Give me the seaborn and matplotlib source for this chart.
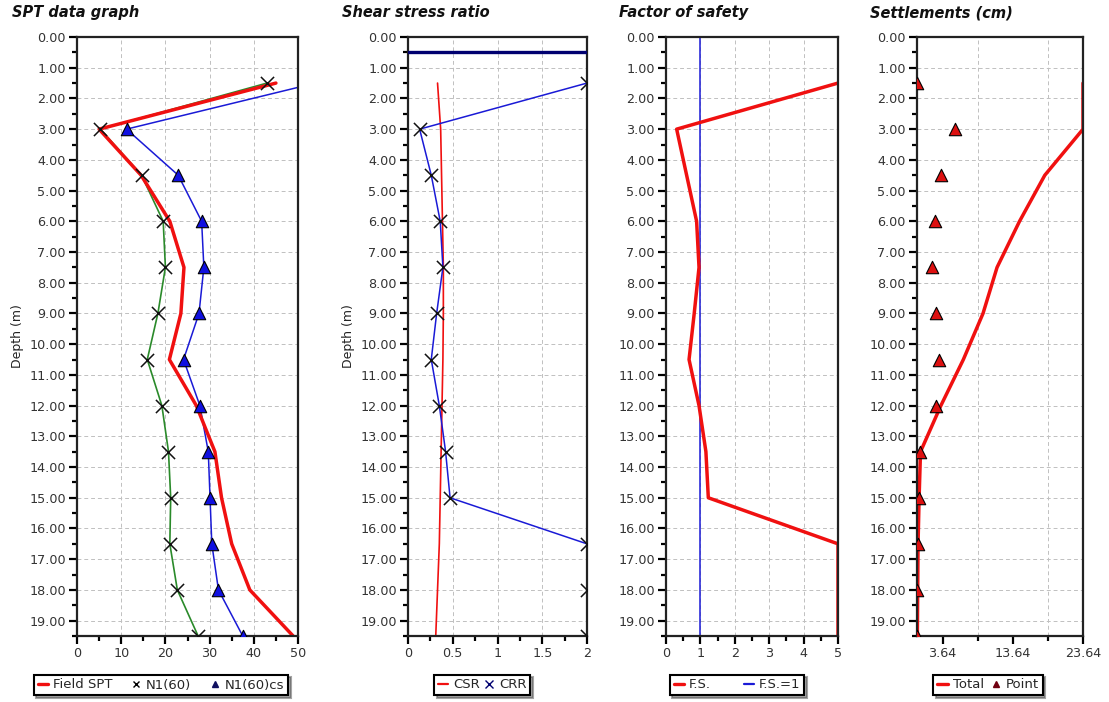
import numpy as np
import pandas as pd
import matplotlib
matplotlib.use("Agg")
import matplotlib.pyplot as plt
import seaborn as sns
from matplotlib.lines import Line2D
from matplotlib.ticker import MultipleLocator, FixedLocator

# ---------------- data ----------------
depth = [1.5, 3.0, 4.5, 6.0, 7.5, 9.0, 10.5, 12.0, 13.5, 15.0, 16.5, 18.0, 19.5]

field_spt = [45.0, 5.0, 14.5, 21.0, 24.2, 23.5, 20.9, 27.0, 31.2, 32.7, 35.0, 39.1, 48.9]
n1_60 = [43.0, 5.3, 14.6, 19.5, 20.0, 18.3, 15.9, 19.2, 20.7, 21.2, 21.0, 22.7, 27.4]
n1_60cs = [54.0, 11.2, 22.9, 28.2, 28.7, 27.6, 24.1, 27.8, 29.7, 30.1, 30.5, 32.0, 37.5]

csr = [0.33, 0.365, 0.375, 0.385, 0.395, 0.395, 0.39, 0.38, 0.37, 0.36, 0.35, 0.33, 0.31]
crr = [2.0, 0.13, 0.26, 0.36, 0.39, 0.32, 0.26, 0.35, 0.42, 0.47, 2.0, 2.0, 2.0]
water_table = 0.5

fs = [5.0, 0.31, 0.6, 0.89, 0.96, 0.82, 0.67, 0.96, 1.16, 1.23, 5.0, 5.0, 5.0]
fs_limit = 1.0

settle_total = [23.64, 23.64, 18.2, 14.6, 11.4, 9.4, 6.6, 3.4, 0.5, 0.3, 0.15, 0.1, 0.05]
settle_point = [0.05, 5.4, 3.4, 2.5, 2.2, 2.7, 3.2, 2.7, 0.43, 0.33, 0.1, 0.05, 0.0]

titles = ["SPT data graph", "Shear stress ratio", "Factor of safety", "Settlements (cm)"]

# ---------------- style ----------------
sns.set_theme(style="white")
plt.rcParams['font.family'] = ['DejaVu Sans']

RED = "#f01010"
BLUE = "#1a1ad6"
GREEN = "#2a8a2a"
NAVY = "#000070"

W, H = 1109, 702
fig = plt.figure(figsize=(W / 100, H / 100), dpi=100)

def px_axes(l, r, t=37, b=636):
    return fig.add_axes([l / W, 1 - b / H, (r - l) / W, (b - t) / H])

ax1 = px_axes(77, 298)
ax2 = px_axes(408, 587)
ax3 = px_axes(666, 838)
ax4 = px_axes(917, 1083)
axes = [ax1, ax2, ax3, ax4]

df = pd.DataFrame(dict(depth=depth, field_spt=field_spt, n1_60=n1_60, n1_60cs=n1_60cs,
                       csr=csr, crr=crr, fs=fs, total=settle_total, point=settle_point))

# Panel 1: SPT
sns.lineplot(data=df, x="n1_60cs", y="depth", sort=False, estimator=None, ax=ax1,
             color=BLUE, linewidth=1.1)
sns.lineplot(data=df, x="n1_60", y="depth", sort=False, estimator=None, ax=ax1,
             color=GREEN, linewidth=1.2)
sns.lineplot(data=df, x="field_spt", y="depth", sort=False, estimator=None, ax=ax1,
             color=RED, linewidth=2.5)
sns.scatterplot(data=df, x="n1_60", y="depth", ax=ax1, marker="x", color="#111111",
                s=90, linewidth=1.1, zorder=5)
sns.scatterplot(data=df, x="n1_60cs", y="depth", ax=ax1, marker="^", color="#1010e0",
                edgecolor="black", linewidth=0.8, s=80, zorder=6)

# Panel 2: shear stress ratio
ax2.axhline(water_table, color=NAVY, linewidth=2.4, zorder=4)
sns.lineplot(data=df, x="csr", y="depth", sort=False, estimator=None, ax=ax2,
             color=RED, linewidth=1.2)
sns.lineplot(data=df, x="crr", y="depth", sort=False, estimator=None, ax=ax2,
             color=BLUE, linewidth=1.1)
sns.scatterplot(data=df, x="crr", y="depth", ax=ax2, marker="x", color="#111111",
                s=90, linewidth=1.1, zorder=5)

# Panel 3: factor of safety
ax3.axvline(fs_limit, color=BLUE, linewidth=1.1)
sns.lineplot(data=df, x="fs", y="depth", sort=False, estimator=None, ax=ax3,
             color=RED, linewidth=2.5)

# Panel 4: settlements
sns.lineplot(data=df, x="total", y="depth", sort=False, estimator=None, ax=ax4,
             color=RED, linewidth=2.5)
sns.scatterplot(data=df, x="point", y="depth", ax=ax4, marker="^", color="#dd1010",
                edgecolor="black", linewidth=0.8, s=80, zorder=6)

# ---------------- axes formatting ----------------
xlims = [(0, 50), (0, 2), (0, 5), (0, 23.64)]
xmajor = [[0, 10, 20, 30, 40, 50], [0, 0.5, 1, 1.5, 2], [0, 1, 2, 3, 4, 5], [3.64, 13.64, 23.64]]
xminor = [[5, 15, 25, 35, 45], [0.25, 0.75, 1.25, 1.75], [0.5, 1.5, 2.5, 3.5, 4.5], [8.64, 18.64]]
xlabels = [["0", "10", "20", "30", "40", "50"], ["0", "0.5", "1", "1.5", "2"],
           ["0", "1", "2", "3", "4", "5"], ["3.64", "13.64", "23.64"]]
gridx = [[10, 20, 30, 40], [0.5, 1, 1.5], [1, 2, 3, 4], [8.64, 18.64]]

for i, ax in enumerate(axes):
    ax.set_xlim(*xlims[i])
    ax.set_ylim(19.5, 0)
    ax.xaxis.set_major_locator(FixedLocator(xmajor[i]))
    ax.xaxis.set_minor_locator(FixedLocator(xminor[i]))
    ax.set_xticklabels(xlabels[i])
    ax.yaxis.set_major_locator(MultipleLocator(1))
    ax.yaxis.set_minor_locator(MultipleLocator(0.5))
    ax.set_yticks(np.arange(0, 20, 1))
    ax.set_yticklabels([f"{v:.2f}" for v in np.arange(0, 20, 1)])
    ax.tick_params(which="major", direction="out", length=6, width=1.6, color="black",
                   labelsize=9.2, labelcolor="#333333", pad=2, bottom=True, left=True)
    ax.tick_params(which="minor", direction="out", length=3.5, width=1.6, color="black",
                   bottom=True, left=True)
    for sp in ax.spines.values():
        sp.set_visible(True)
        sp.set_color("#222222")
        sp.set_linewidth(1.6)
    for g in gridx[i]:
        ax.axvline(g, color="#c0c0c0", linestyle=(0, (4, 3)), linewidth=0.7, zorder=0)
    for d in range(1, 20):
        ax.axhline(d, color="#c0c0c0", linestyle=(0, (4, 3)), linewidth=0.7, zorder=0)
    ax.set_xlabel("")
    ax.set_ylabel("")
    ax.set_facecolor("white")

for ax in (ax1, ax2):
    ax.set_ylabel("Depth (m)", fontsize=9, color="#222222", labelpad=4)

# titles
title_x = [12, 342, 619, 870]
for t, x in zip(titles, title_x):
    fig.text(x / W, 1 - 17 / H, t, fontsize=10.5, fontweight="bold", fontstyle="italic",
             ha="left", va="baseline", color="#111111")

# legends
def leg(handles, labels, cx, **kw):
    lg = fig.legend(handles, labels, loc="center", bbox_to_anchor=(cx / W, 1 - 685 / H),
                    ncol=len(handles), frameon=True, fancybox=False, shadow=True,
                    fontsize=9.5, handlelength=0.8, handletextpad=0.35,
                    borderpad=0.3, borderaxespad=0, **kw)
    fr = lg.get_frame()
    fr.set_edgecolor("black")
    fr.set_linewidth(1.5)
    return lg

leg([Line2D([], [], color=RED, lw=2.4),
     Line2D([], [], color="black", marker="x", lw=0, markersize=5),
     Line2D([], [], color="#101060", marker="^", lw=0, markersize=4)],
    ["Field SPT", "N1(60)", "N1(60)cs"], 161, columnspacing=1.4)
leg([Line2D([], [], color=RED, lw=1.6),
     Line2D([], [], color=NAVY, marker="x", lw=0, markersize=6)],
    ["CSR", "CRR"], 482, columnspacing=0.3)
leg([Line2D([], [], color=RED, lw=2.4),
     Line2D([], [], color=BLUE, lw=1.6)],
    ["F.S.", "F.S.=1"], 737, columnspacing=2.5)
leg([Line2D([], [], color=RED, lw=2.4),
     Line2D([], [], color="#700010", marker="^", lw=0, markersize=4)],
    ["Total", "Point"], 988, columnspacing=0.5)

fig.savefig("out.png", dpi=100)
